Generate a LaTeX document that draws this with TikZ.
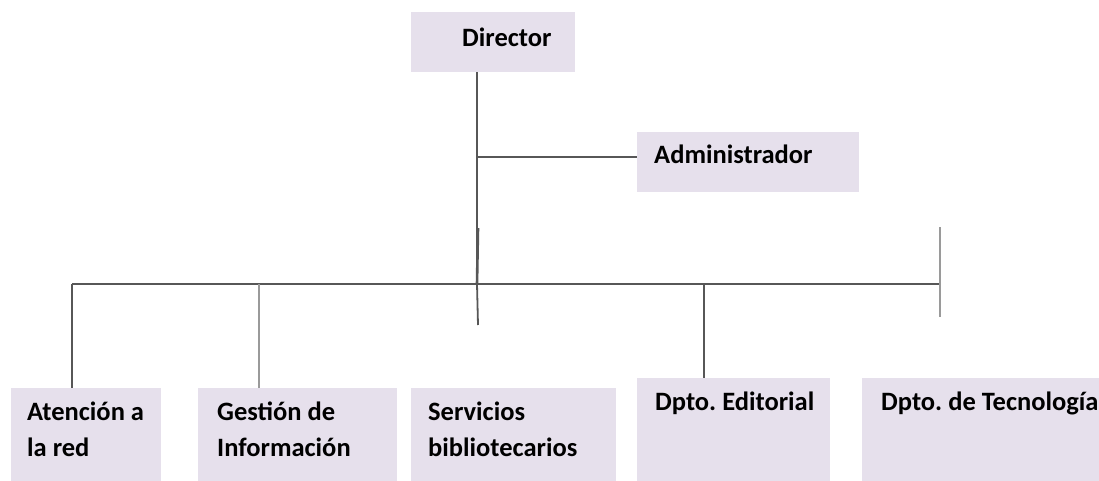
\documentclass[tikz,border=0pt]{standalone}
\usepackage{fontspec}
\setmainfont{Carlito}
\frenchspacing
\usetikzlibrary{positioning}
\definecolor{boxlila}{HTML}{E6E0EC}
\definecolor{linegray}{HTML}{575757}
\definecolor{softgray}{HTML}{9A9A9A}
\tikzset{
  unit/.style={fill=boxlila, draw=none, anchor=north west, inner sep=0pt},
  lbl/.style={anchor=base west, inner sep=0pt, align=left,
    font=\fontsize{26.5}{36}\selectfont\bfseries},
  link/.style={draw=linegray, line width=1.8pt},
}

\begin{document}
\begin{tikzpicture}[x=1pt, y=-1pt]
    \useasboundingbox (0,0) rectangle (1099,481);
    % boxes
    \node[unit, minimum width=164pt, minimum height=60pt] (dir) at (411,12) {};
    \node[unit, minimum width=222pt, minimum height=60pt] (adm) at (637,132) {};
    \node[unit, minimum width=150pt, minimum height=93pt] (aten) at (11,388) {};
    \node[unit, minimum width=199pt, minimum height=93pt] (gest) at (198,388) {};
    \node[unit, minimum width=205pt, minimum height=93pt] (serv) at (411,388) {};
    \node[unit, minimum width=193pt, minimum height=103pt] (edit) at (637,378) {};
    \node[unit, minimum width=237pt, minimum height=103pt] (tecn) at (862,378) {};
    % labels (two-line labels sit on the baseline of their last line)
    \node[lbl] (tdir) at (462,47) {Director};
    \node[lbl] (tadm) at (654,164) {Administrador};
    \node[lbl] (taten) at (27,456) {Atención a\\la red};
    \node[lbl] (tgest) at (217,456) {Gestión de\\Información};
    \node[lbl] (tserv) at (428,456) {Servicios\\bibliotecarios};
    \node[lbl] (tedit) at (655,410) {Dpto. Editorial};
    \node[lbl] (ttecn) at (881,410) {Dpto. de Tecnología};
    % lines
    \coordinate (hub) at (477,284);
    \coordinate (stub) at (478,228);
    \coordinate (hubend) at (478,325);
    \coordinate (admjoin) at (477,157);
    \coordinate (barl) at (72,284);
    \coordinate (barr) at (940,284);
    \coordinate (bgest) at (259,284);
    \coordinate (bedit) at (704,284);
    \coordinate (rtop) at (940,227);
    \coordinate (rbot) at (940,317);
    \draw[link] (dir.south -| hub) -- (hub);
    \draw[link, line width=2.6pt] (stub) -- (hub);
    \draw[link] (admjoin) -- (admjoin -| adm.west);
    \draw[link] (barl) -- (barr);
    \draw[link] (hub) -- (hubend);
    \draw[link] (barl) -- (barl |- aten.north);
    \draw[link, draw=softgray] (bgest) -- (bgest |- gest.north);
    \draw[link] (bedit) -- (bedit |- edit.north);
    \draw[link, draw=softgray] (rtop) -- (rbot);
\end{tikzpicture}
\end{document}
